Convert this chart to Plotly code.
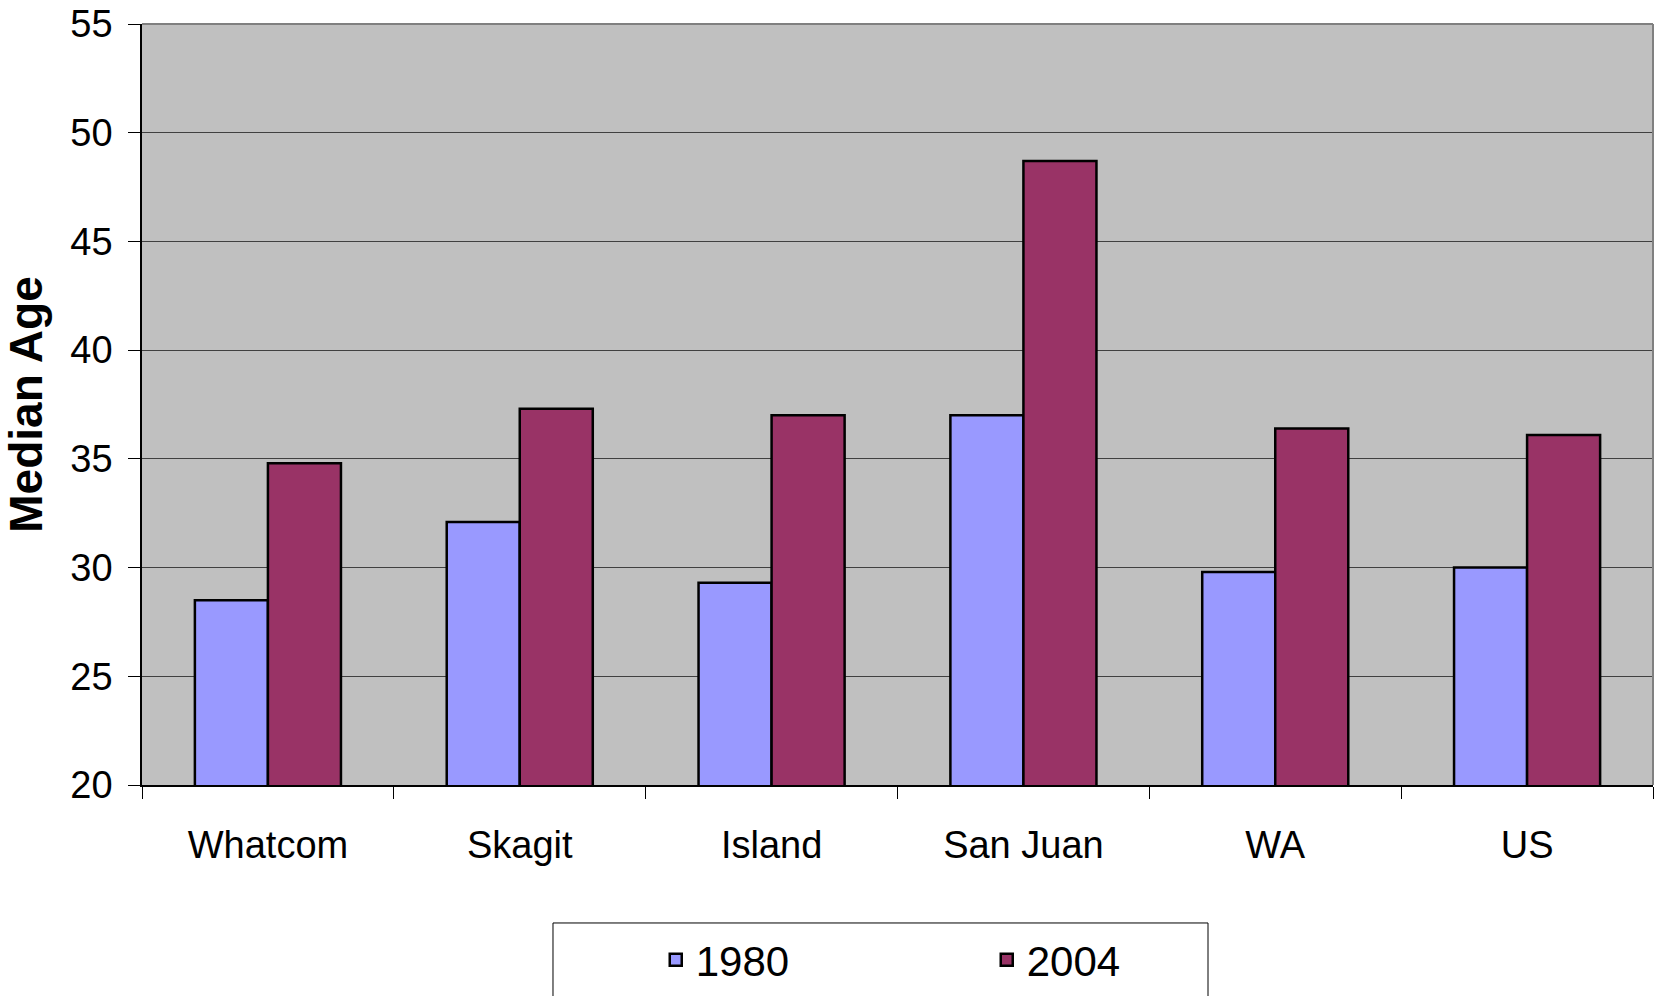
import plotly.graph_objects as go

# ---- data ----
categories = ["Whatcom", "Skagit", "Island", "San Juan", "WA", "US"]
series_names = ["1980", "2004"]
median_1980 = [28.5, 32.1, 29.3, 37.0, 29.8, 30.0]
median_2004 = [34.8, 37.3, 37.0, 48.7, 36.4, 36.1]
series_colors = ["#9999FF", "#993366"]
y_ticks = [20, 25, 30, 35, 40, 45, 50, 55]

FONT = "Liberation Sans, Arial, sans-serif"

fig = go.Figure()
for name, vals, col in zip(series_names, [median_1980, median_2004], series_colors):
    fig.add_trace(go.Bar(
        x=categories, y=vals, name=name,
        marker=dict(color=col, line=dict(color="#000000", width=2.5)),
    ))

fig.update_layout(
    width=1660, height=996,
    margin=dict(l=142, r=7, t=24, b=211, autoexpand=False),
    paper_bgcolor="#FFFFFF",
    plot_bgcolor="#C0C0C0",
    barmode="group",
    bargap=0.42,
    bargroupgap=0,
    font=dict(family=FONT, color="#000000"),
    showlegend=True,
    legend=dict(
        orientation="h",
        x=0.340, xanchor="left",
        y=-0.23, yanchor="middle",
        font=dict(size=42, family=FONT),
        bgcolor="rgba(0,0,0,0)",
        borderwidth=0,
        entrywidth=286,
        traceorder="normal",
    ),
)

fig.update_xaxes(
    type="category",
    automargin=False,
    tickson="boundaries",
    ticks="outside", ticklen=12, tickwidth=1, tickcolor="#000000",
    showline=True, linecolor="#000000", linewidth=1.5,
    showgrid=False,
    tickfont=dict(size=38, family=FONT),
    ticklabelstandoff=26,
)

fig.update_yaxes(
    range=[20, 55],
    automargin=True,
    tickvals=y_ticks,
    ticklabeloverflow="allow",
    ticks="outside", ticklen=12, tickwidth=1, tickcolor="#000000",
    showline=True, linecolor="#000000", linewidth=1.5,
    showgrid=True, gridcolor="#404040", gridwidth=1,
    zeroline=False,
    tickfont=dict(size=38, family=FONT),
    ticklabelstandoff=8,
    title=dict(text="<b>Median Age</b>", font=dict(size=46, family=FONT), standoff=14),
)

# plot-area border (top/right gray like the original)
fig.add_shape(type="line", xref="paper", yref="paper", x0=0, x1=1, y0=1, y1=1,
              line=dict(color="#808080", width=2))
fig.add_shape(type="line", xref="paper", yref="paper", x0=1, x1=1, y0=0, y1=1,
              line=dict(color="#808080", width=2))

# legend frame
fig.add_shape(type="rect", xref="paper", yref="paper",
              x0=0.272, x1=0.7055, y0=-0.1813, y1=-0.32,
              line=dict(color="#000000", width=1), fillcolor="rgba(0,0,0,0)", layer="below")

fig.write_html("out.html", config={"displayModeBar": False},
               post_script="document.body.style.margin='0';")
